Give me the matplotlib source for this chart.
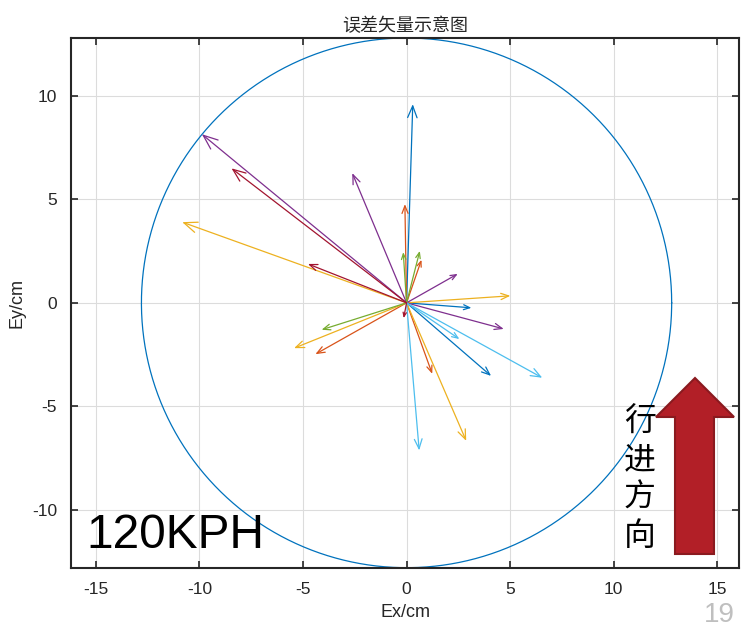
import numpy as np
import matplotlib
matplotlib.use("Agg")
import matplotlib.pyplot as plt
from matplotlib.patches import Polygon

plt.rcParams['font.family'] = ['Liberation Sans', 'Noto Sans CJK SC', 'DejaVu Sans']
plt.rcParams['axes.unicode_minus'] = False

# ------------------------------------------------------------
# Datos: componentes de los vectores de error (cm)
# ------------------------------------------------------------
ex = [0.30, 3.13, 4.08,
      -0.08, 0.72, 1.24, -4.40,
      -10.83, 5.01, 2.88, -5.43,
      -9.88, -2.62, 2.47, 4.69,
      -0.16, 0.64, -4.10,
      2.55, 6.55, 0.61,
      -8.45, -4.76, -0.14]
ey = [9.60, -0.24, -3.53,
      4.77, 2.08, -3.43, -2.48,
      3.90, 0.34, -6.67, -2.19,
      8.15, 6.27, 1.40, -1.26,
      2.45, 2.51, -1.30,
      -1.75, -3.62, -7.13,
      6.50, 1.88, -0.74]
grupo = [0, 0, 0,
         1, 1, 1, 1,
         2, 2, 2, 2,
         3, 3, 3, 3,
         4, 4, 4,
         5, 5, 5,
         6, 6, 6]
colores = ["#0072BD", "#D95319", "#EDB120", "#7E2F8E", "#77AC30", "#4DBEEE", "#A2142F"]
radio = 12.8

W, H = 743, 628
fig = plt.figure(figsize=(W / 100, H / 100), dpi=100)
ax = fig.add_axes([71 / W, 1 - 567.7 / H, (739 - 71) / W, (567.7 - 38) / H])

# circulo de referencia
t = np.linspace(0, 2 * np.pi, 400)
ax.plot(radio * np.cos(t), radio * np.sin(t), color="#0072BD", lw=0.9)

# vectores
for x, y, g in zip(ex, ey, grupo):
    largo = np.hypot(x, y) * 20.7
    hl = 2.5 + 0.03 * largo
    ax.annotate("", xy=(x, y), xytext=(0, 0),
                arrowprops=dict(arrowstyle=f"->,head_length={hl:.2f},head_width={hl * 0.4:.2f}",
                                color=colores[g], lw=0.9, shrinkA=0, shrinkB=0,
                                mutation_scale=1))

ax.set_xlim(-16.2, 16.05)
ax.set_ylim(-12.8, 12.8)
ax.set_xticks([-15, -10, -5, 0, 5, 10, 15])
ax.set_yticks([-10, -5, 0, 5, 10])
ax.grid(True, color="#DCDCDC", lw=0.8)
ax.set_axisbelow(True)
ax.tick_params(direction="in", top=True, right=True, length=5, width=1.2,
               labelsize=12.5, colors="#262626", pad=10)
for s in ax.spines.values():
    s.set_color("#262626")
    s.set_linewidth(1.5)

ax.set_title("误差矢量示意图", family=["Noto Sans CJK SC"], fontsize=13, color="#262626", pad=5)
ax.set_xlabel("Ex/cm", fontsize=13, color="#262626", labelpad=5)
ax.set_ylabel("Ey/cm", fontsize=13, color="#262626", labelpad=5)

# textos de la diapositiva
fig.text(86 / W, 1 - 548 / H, "120KPH", fontsize=34.5, color="black")
fig.text(640 / W, 1 - 479 / H, "行\n进\n方\n向", family=["Noto Sans CJK SC"], fontsize=23,
         ha="center", va="center", linespacing=1.25, color="black")
fig.text(735 / W, 1 - 628 / H, "19", fontsize=20, color="#BFBFBF", ha="right", va="bottom")

# flecha roja "direccion de avance"
flecha = [(695, 378), (734, 417), (714, 417), (714, 554), (675, 554), (675, 417), (656, 417)]
fig.patches.append(Polygon([(px / W, 1 - py / H) for px, py in flecha], closed=True,
                           transform=fig.transFigure, facecolor="#B21F27",
                           edgecolor="#8A1A1F", lw=1.5))

fig.savefig("out.png", dpi=100)
